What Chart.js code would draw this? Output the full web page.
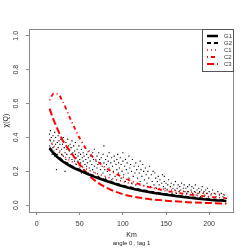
<!DOCTYPE html>
<html>
<head>
<meta charset="utf-8">
<script src="https://cdn.jsdelivr.net/npm/chart.js@4"></script>
<style>
  html, body { margin: 0; padding: 0; background: #fff; }
  #grafico { display: block; }
</style>
</head>
<body>
<canvas id="grafico" width="249" height="249"></canvas>
<script>
// distancias (Km) e valores observados
const kmObs = [15,15,16,16,17,17,18,18,19,19,20,20,21,21,22,22,23,23,24,24,25,25,26,26,27,27,28,28,29,29,
  30,31,31,32,33,33,34,34,35,35,36,36,37,38,38,39,39,40,40,41,41,42,42,43,43,44,44,45,45,46,46,47,47,48,48,49,49,50,50,
  51,51,52,52,53,53,54,54,55,55,56,56,57,57,58,58,59,60,60,61,61,62,63,63,64,65,65,66,67,67,68,69,70,70,71,72,72,73,74,74,
  75,76,77,77,78,78,79,80,80,81,82,82,83,84,84,85,86,87,87,88,89,90,90,91,92,93,93,94,95,95,96,97,98,98,99,100,100,
  101,102,103,103,104,105,106,107,107,108,109,110,110,111,112,113,114,115,115,116,117,118,119,120,120,121,122,123,124,125,
  126,127,128,129,130,131,132,133,134,135,136,137,138,139,140,141,142,143,144,145,146,147,148,148,149,150,
  151,152,153,154,155,156,157,158,159,160,161,162,163,164,165,166,167,168,169,170,171,172,173,174,175,
  176,177,178,179,180,181,182,183,184,185,186,187,188,189,190,191,192,193,194,195,196,197,198,199,200,202,204,206,208,210,212,214,216,218,220];
const chiObs = [0.35,0.42,0.38,0.44,0.33,0.40,0.36,0.30,0.41,0.34,0.38,0.32,0.43,0.29,0.36,0.40,0.21,0.33,0.37,0.30,0.41,0.34,0.28,0.38,0.32,0.36,0.39,0.27,0.33,0.30,
  0.36,0.29,0.40,0.34,0.20,0.31,0.37,0.27,0.33,0.30,0.39,0.25,0.35,0.28,0.32,0.36,0.24,0.30,0.34,0.27,0.38,0.31,0.23,0.29,0.35,0.26,0.32,0.30,0.37,0.24,0.28,0.33,0.21,0.29,0.26,0.31,0.35,0.22,0.27,
  0.30,0.25,0.33,0.19,0.28,0.23,0.26,0.31,0.21,0.29,0.24,0.34,0.27,0.20,0.30,0.23,0.25,0.28,0.19,0.32,0.22,0.26,0.29,0.18,0.24,0.31,0.21,0.27,0.23,0.33,0.19,0.26,0.29,0.22,0.24,0.31,0.17,0.27,0.21,0.25,
  0.28,0.23,0.30,0.19,0.35,0.25,0.21,0.27,0.16,0.24,0.29,0.20,0.26,0.22,0.31,0.18,0.25,0.28,0.15,0.23,0.20,0.26,0.29,0.17,0.24,0.27,0.21,0.30,0.19,0.25,0.22,0.28,0.16,0.24,0.20,0.31,0.26,
  0.18,0.23,0.27,0.14,0.21,0.25,0.19,0.29,0.16,0.22,0.24,0.13,0.20,0.27,0.17,0.23,0.19,0.25,0.12,0.21,0.16,0.23,0.19,0.26,0.14,0.21,0.17,0.24,0.20,0.15,
  0.22,0.18,0.13,0.20,0.16,0.23,0.11,0.18,0.14,0.20,0.12,0.19,0.16,0.10,0.14,0.17,0.12,0.15,0.09,0.13,0.18,0.11,0.17,0.14,0.10,0.13,
  0.09,0.12,0.15,0.08,0.11,0.13,0.07,0.10,0.12,0.09,0.14,0.07,0.10,0.12,0.08,0.11,0.09,0.13,0.06,0.10,0.12,0.08,0.10,0.07,0.11,
  0.08,0.12,0.06,0.09,0.11,0.07,0.10,0.08,0.12,0.06,0.09,0.07,0.10,0.08,0.05,0.09,0.11,0.07,0.08,0.06,0.09,0.07,0.10,0.05,0.08,0.06,0.09,0.07,0.05,0.08,0.06,0.07,0.05,0.06,0.04];

// curvas ajustadas
const kmCurva = [15,20,25,30,40,50,60,75,100,125,150,175,200,220];
const curvaG1 = [0.335,0.305,0.28,0.26,0.228,0.205,0.182,0.153,0.112,0.083,0.062,0.046,0.033,0.025];
const curvaG2 = [0.34,0.31,0.286,0.265,0.232,0.208,0.186,0.157,0.116,0.087,0.065,0.049,0.036,0.028];
const curvaC1 = [0.39,0.35,0.32,0.295,0.26,0.232,0.208,0.178,0.14,0.113,0.094,0.08,0.069,0.062];
const curvaC2 = [0.62,0.66,0.655,0.615,0.50,0.395,0.315,0.24,0.165,0.115,0.085,0.065,0.05,0.042];
const curvaC3 = [0.57,0.50,0.44,0.385,0.31,0.24,0.18,0.12,0.065,0.04,0.027,0.018,0.013,0.01];

const ticksX = [0, 50, 100, 150, 200];
const ticksY = [0, 0.2, 0.4, 0.6, 0.8, 1.0];

const pontos = (xs, ys) => xs.map((x, i) => ({ x: x, y: ys[i] }));

function curva(rotulo, ys, cor, largura, tracos) {
    return {
        label: rotulo,
        data: pontos(kmCurva, ys),
        showLine: true,
        borderColor: cor,
        backgroundColor: cor,
        borderWidth: largura,
        borderDash: tracos,
        pointRadius: 0,
        cubicInterpolationMode: 'monotone',
        fill: false
    };
}

// legenda no canto como no R
const legendaR = {
    id: 'legendaR',
    afterDraw(chart) {
        const ctx = chart.ctx;
        const area = chart.chartArea;
        const larg = 32, alt = 42;
        const x0 = area.right - larg, y0 = area.top;
        ctx.save();
        ctx.strokeStyle = '#555';
        ctx.lineWidth = 1;
        ctx.strokeRect(x0 + 0.5, y0 + 0.5, larg - 1, alt);
        ctx.font = '6px "Liberation Sans", Arial, sans-serif';
        ctx.textBaseline = 'middle';
        ctx.fillStyle = '#333';
        chart.data.datasets.filter(d => d.showLine).forEach((d, i) => {
            const y = y0 + 7 + i * 7;
            ctx.beginPath();
            ctx.strokeStyle = d.borderColor;
            ctx.lineWidth = d.borderWidth;
            ctx.setLineDash(d.borderDash || []);
            ctx.moveTo(x0 + 5, y);
            ctx.lineTo(x0 + 16, y);
            ctx.stroke();
            ctx.setLineDash([]);
            ctx.fillText(d.label, x0 + 22, y);
        });
        ctx.restore();
    }
};

const moldura = {
    id: 'moldura',
    afterDraw(chart) {
        const ctx = chart.ctx;
        const a = chart.chartArea;
        ctx.save();
        ctx.strokeStyle = '#888';
        ctx.lineWidth = 1;
        ctx.strokeRect(a.left + 0.5, a.top + 0.5, a.right - a.left - 1, a.bottom - a.top);
        ctx.font = '6px "Liberation Sans", Arial, sans-serif';
        ctx.fillStyle = '#222';
        ctx.textAlign = 'center';
        ctx.textBaseline = 'middle';
        ctx.fillText('angle 0 , lag 1', (a.left + a.right) / 2, 243);
        ctx.restore();
    }
};

new Chart(document.getElementById('grafico'), {
    type: 'scatter',
    data: {
        datasets: [
            curva('G1', curvaG1, '#000', 2.5, []),
            curva('G2', curvaG2, '#000', 2, [4, 3]),
            curva('C1', curvaC1, '#ff0000', 1.5, [1, 3]),
            curva('C2', curvaC2, '#ff0000', 1.8, [1, 3, 4, 3]),
            curva('C3', curvaC3, '#ff0000', 2, [7, 3]),
            {
                label: 'obs',
                data: pontos(kmObs, chiObs),
                pointRadius: 0.8,
                pointStyle: 'rect',
                backgroundColor: '#000',
                borderColor: '#000',
                borderWidth: 0
            }
        ]
    },
    plugins: [moldura, legendaR],
    options: {
        responsive: false,
        animation: false,
        layout: { padding: { top: 29, right: 15, left: 0, bottom: 0 } },
        plugins: { legend: { display: false }, tooltip: { enabled: false } },
        scales: {
            x: {
                type: 'linear',
                min: -8.8,
                max: 228.8,
                afterBuildTicks: s => { s.ticks = ticksX.map(v => ({ value: v })); },
                afterFit: s => { s.height = 37; },
                grid: { drawOnChartArea: false, drawTicks: true, tickLength: 3, color: '#888' },
                border: { display: false },
                ticks: { font: { size: 7, family: '"Liberation Sans", Arial' }, color: '#333', padding: 5, maxRotation: 0 },
                title: { display: true, text: 'Km', font: { size: 7, family: '"Liberation Sans", Arial' }, color: '#222', padding: { top: 0, bottom: 10 } }
            },
            y: {
                type: 'linear',
                min: -0.04,
                max: 1.04,
                afterBuildTicks: s => { s.ticks = ticksY.map(v => ({ value: v })); },
                afterFit: s => { s.width = 29; },
                grid: { drawOnChartArea: false, drawTicks: true, tickLength: 3, color: '#888' },
                border: { display: false },
                ticks: {
                    font: { size: 7, family: '"Liberation Sans", Arial' },
                    color: '#333',
                    padding: 5,
                    minRotation: 90,
                    maxRotation: 90,
                    crossAlign: 'center',
                    callback: v => v.toFixed(1)
                },
                title: { display: true, text: 'χ(Q)', font: { size: 7, family: '"Liberation Sans", Arial' }, color: '#222', padding: { top: 2, bottom: 0 } }
            }
        }
    }
});
</script>
</body>
</html>
